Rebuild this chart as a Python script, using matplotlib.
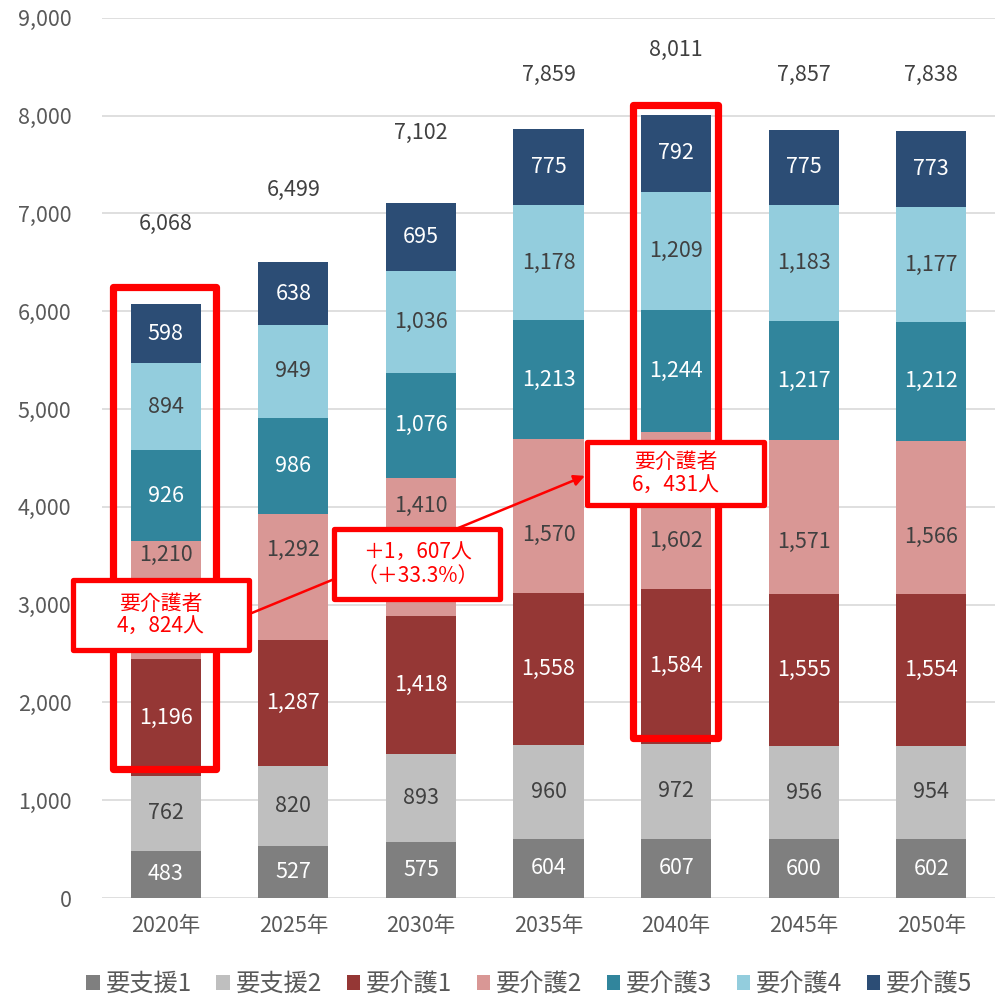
import matplotlib
matplotlib.use("Agg")
import matplotlib.pyplot as plt
from matplotlib.patches import Rectangle, FancyArrowPatch
import numpy as np

plt.rcParams['font.family'] = ['Noto Sans CJK JP', 'DejaVu Sans']

years = ["2020年", "2025年", "2030年", "2035年", "2040年", "2045年", "2050年"]
categories = ["要支援1", "要支援2", "要介護1", "要介護2", "要介護3", "要介護4", "要介護5"]
shien1 = [483, 527, 575, 604, 607, 600, 602]
shien2 = [762, 820, 893, 960, 972, 956, 954]
kaigo1 = [1196, 1287, 1418, 1558, 1584, 1555, 1554]
kaigo2 = [1210, 1292, 1410, 1570, 1602, 1571, 1566]
kaigo3 = [926, 986, 1076, 1213, 1244, 1217, 1212]
kaigo4 = [894, 949, 1036, 1178, 1209, 1183, 1177]
kaigo5 = [598, 638, 695, 775, 792, 775, 773]
totals = [6068, 6499, 7102, 7859, 8011, 7857, 7838]

series = [shien1, shien2, kaigo1, kaigo2, kaigo3, kaigo4, kaigo5]
colors = ["#7F7F7F", "#BFBFBF", "#953735", "#D99795", "#31859C", "#93CDDD", "#2C4D75"]
label_colors = ["white", "#404040", "white", "#404040", "white", "#404040", "white"]

# hauteur des étiquettes placées à la main dans l'original
total_label_y = [6890, 7240, 7820, 8420, 8670, 8420, 8420]
kaigo2_label_y = [3508, 3559, 4009, 3712, 3651, 3641, 3692]

fig = plt.figure(figsize=(9.99, 9.98), dpi=100)
ax = fig.add_axes([0.1021, 0.1002, 0.894, 0.882])

fs = 15.5
x = np.arange(len(years))
bottom = np.zeros(len(years))
for k, (vals, col, lc, name) in enumerate(zip(series, colors, label_colors, categories)):
    vals = np.array(vals)
    ax.bar(x, vals, width=0.55, bottom=bottom, color=col, label=name, zorder=2)
    for i, (xi, b, v) in enumerate(zip(x, bottom, vals)):
        ypos = kaigo2_label_y[i] if k == 3 else b + v / 2
        ax.text(xi, ypos, f"{v:,}", ha="center", va="center",
                color=lc, fontsize=fs, zorder=3)
    bottom += vals

for xi, t, ty in zip(x, totals, total_label_y):
    ax.text(xi, ty, f"{t:,}", ha="center", va="center", color="#404040", fontsize=fs)

ax.set_xlim(-0.5, len(years) - 0.5)
ax.set_ylim(0, 9000)
ax.set_yticks(np.arange(0, 9001, 1000))
ax.set_yticklabels([f"{v:,}" for v in range(0, 9001, 1000)])
ax.set_xticks(x)
ax.set_xticklabels(years)
ax.tick_params(axis="both", length=0, labelsize=fs, colors="#595959")
ax.tick_params(axis="x", pad=12)
ax.tick_params(axis="y", pad=22)
ax.grid(axis="y", color="#D9D9D9", linewidth=1.2, zorder=0)
ax.set_axisbelow(True)
for s in ax.spines.values():
    s.set_visible(False)

# --- encadrés rouges --- #
red = "#FF0000"
for (x0, x1, y0, y1) in [(-0.41, 0.397, 1314, 6244), (3.665, 4.331, 1641, 8105)]:
    ax.add_patch(Rectangle((x0, y0), x1 - x0, y1 - y0, fill=False, edgecolor=red,
                           linewidth=5.2, joinstyle="round", zorder=4, clip_on=False))

arrow = FancyArrowPatch((0.676, 2915), (3.285, 4316), arrowstyle="-|>", mutation_scale=16,
                        color=red, linewidth=1.8, zorder=5, clip_on=False, shrinkA=0, shrinkB=0)
ax.add_patch(arrow)

boxes = [(-0.731, 0.655, 2531, 3247, "要介護者\n4，824人"),
         (1.322, 2.623, 3053, 3769, "＋1，607人\n（＋33.3%）"),
         (3.305, 4.692, 4014, 4658, "要介護者\n6，431人")]
for x0, x1, y0, y1, txt in boxes:
    ax.add_patch(Rectangle((x0, y0), x1 - x0, y1 - y0, facecolor="white", edgecolor=red,
                           linewidth=3.8, joinstyle="round", zorder=6, clip_on=False))
    ax.text((x0 + x1) / 2, (y0 + y1) / 2, txt, ha="center", va="center", color=red,
            fontsize=15, linespacing=1.1, zorder=7)

handles, labels = ax.get_legend_handles_labels()
fig.legend(handles, labels, loc="center", bbox_to_anchor=(0.53, 0.014), ncol=7,
           frameon=False, fontsize=17.5, handlelength=0.55, handleheight=0.55,
           handletextpad=0.25, columnspacing=1.0, labelcolor="#595959")

fig.savefig("out.png", dpi=100)
